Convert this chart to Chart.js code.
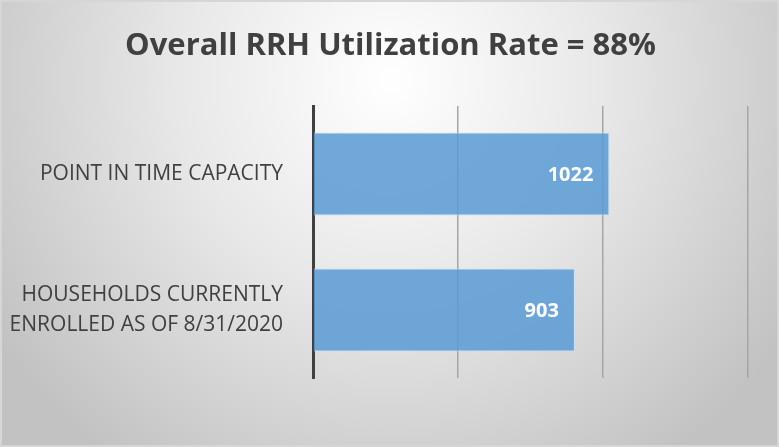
<!DOCTYPE html>
<html>
<head>
<meta charset="utf-8">
<script src="https://cdn.jsdelivr.net/npm/chart.js@4/dist/chart.umd.min.js"></script>
<style>
html,body{margin:0;padding:0;background:#fff;}
#wrap{width:779px;height:447px;position:relative;}
</style>
</head>
<body>
<div id="wrap"><canvas id="c" width="779" height="447"></canvas></div>
<script>
const titleText = 'Overall RRH Utilization Rate = 88%';
const categories = ['POINT IN TIME CAPACITY', ['HOUSEHOLDS CURRENTLY', 'ENROLLED AS OF 8/31/2020']];
const values = [1022, 903];
const axisMin = 0;
const axisMax = 1500;
const axisStep = 500;

const bgPlugin = {
  id: 'bg',
  beforeDraw(chart) {
    const ctx = chart.ctx;
    const w = chart.width, h = chart.height;
    ctx.save();
    const g = ctx.createRadialGradient(390, 80, 0, 390, 80, 470);
    g.addColorStop(0, '#ffffff');
    g.addColorStop(0.45, '#e8e8e8');
    g.addColorStop(1, '#c2c2c2');
    ctx.fillStyle = g;
    ctx.fillRect(0, 0, w, h);
    ctx.strokeStyle = '#d6d6d6';
    ctx.lineWidth = 2;
    ctx.strokeRect(1, 1, w - 2, h - 2);
    ctx.restore();
  }
};

const titlePlugin = {
  id: 'centerTitle',
  afterDraw(chart) {
    const ctx = chart.ctx;
    ctx.save();
    ctx.font = "bold 31px 'Open Sans'";
    ctx.fillStyle = '#404040';
    ctx.textAlign = 'center';
    ctx.textBaseline = 'middle';
    ctx.fillText(titleText, chart.width / 2 + 1, 46);
    ctx.restore();
  }
};

const labelPlugin = {
  id: 'barLabels',
  afterDatasetsDraw(chart) {
    const ctx = chart.ctx;
    const meta = chart.getDatasetMeta(0);
    ctx.save();
    ctx.font = "bold 20px 'Open Sans'";
    ctx.fillStyle = '#ffffff';
    ctx.textAlign = 'right';
    ctx.textBaseline = 'middle';
    meta.data.forEach((bar, i) => {
      ctx.fillText(String(chart.data.datasets[0].data[i]), bar.x - 16, bar.y + 1);
    });
    ctx.restore();
  }
};

new Chart(document.getElementById('c'), {
  type: 'bar',
  data: {
    labels: categories,
    datasets: [{
      data: values,
      backgroundColor: 'rgba(91,155,213,0.86)',
      borderColor: 'rgba(200,222,242,0.9)',
      borderWidth: 1,
      categoryPercentage: 0.61,
      barPercentage: 1.0
    }]
  },
  options: {
    indexAxis: 'y',
    responsive: false,
    animation: false,
    layout: { padding: { left: 0, right: 31, top: 106, bottom: 0 } },
    plugins: {
      legend: { display: false },
      tooltip: { enabled: false },
      title: { display: false }
    },
    scales: {
      x: {
        min: axisMin,
        max: axisMax,
        ticks: { display: false, stepSize: axisStep },
        grid: { color: '#a6a6a6', lineWidth: 1.5, drawTicks: false },
        border: { display: false },
        afterFit(scale) { scale.height = 69; }
      },
      y: {
        ticks: {
          color: '#404040',
          font: { family: 'Open Sans', size: 21, lineHeight: 1.42 },
          padding: 30,
          crossAlign: 'near'
        },
        grid: { display: false, drawTicks: false },
        border: { display: true, color: '#404040', width: 3 },
        afterFit(scale) { scale.width = 313; }
      }
    }
  },
  plugins: [bgPlugin, labelPlugin, titlePlugin]
});
</script>
</body>
</html>
